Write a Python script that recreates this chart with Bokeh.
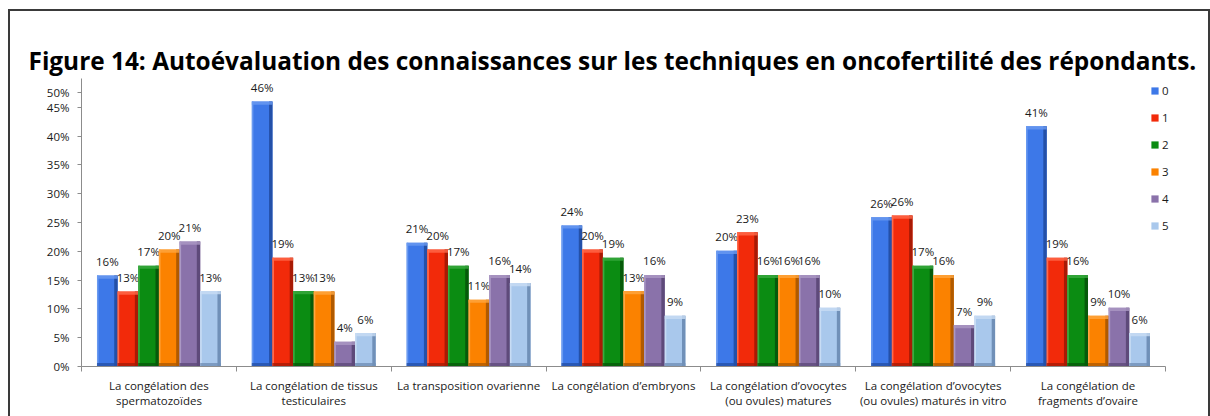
from bokeh.plotting import figure
from bokeh.models import (ColumnDataSource, FixedTicker, CustomJSTickFormatter, Legend,
                          LegendItem, Range1d)
from bokeh.transform import dodge
from bokeh.core.properties import value
from bokeh.embed import file_html
from bokeh.resources import INLINE

# ---------------- data ----------------
categories = [
    "La congélation des\nspermatozoïdes",
    "La congélation de tissus\ntesticulaires",
    "La transposition ovarienne",
    "La congélation d’embryons",
    "La congélation d’ovocytes\n(ou ovules) matures",
    "La congélation d’ovocytes\n(ou ovules) maturés in vitro",
    "La congélation de\nfragments d’ovaire",
]
series_names = ["0", "1", "2", "3", "4", "5"]

s0 = [15.8, 46.0, 21.5, 24.5, 20.1, 25.9, 41.7]
s1 = [13.0, 18.9, 20.3, 20.3, 23.3, 26.2, 18.9]
s2 = [17.5, 13.1, 17.5, 18.9, 15.9, 17.5, 15.9]
s3 = [20.3, 13.0, 11.6, 13.1, 15.9, 15.9, 8.8]
s4 = [21.7, 4.3, 15.9, 15.9, 15.9, 7.2, 10.2]
s5 = [13.1, 5.8, 14.5, 8.8, 10.2, 8.8, 5.8]

l0 = ["16%", "46%", "21%", "24%", "20%", "26%", "41%"]
l1 = ["13%", "19%", "20%", "20%", "23%", "26%", "19%"]
l2 = ["17%", "13%", "17%", "19%", "16%", "17%", "16%"]
l3 = ["20%", "13%", "11%", "13%", "16%", "16%", "9%"]
l4 = ["21%", "4%", "16%", "16%", "16%", "7%", "10%"]
l5 = ["13%", "6%", "14%", "9%", "10%", "9%", "6%"]

series = [s0, s1, s2, s3, s4, s5]
labels = [l0, l1, l2, l3, l4, l5]

y_ticks = [0, 5, 10, 15, 20, 25, 30, 35, 40, 45]

title_text = "Figure 14: Autoévaluation des connaissances sur les techniques en oncofertilité des répondants."

# ---------------- styles ----------------
main_colors = ["#3d78e8", "#f22a0a", "#0b8c12", "#fb8200", "#8a72aa", "#a9c8ec"]
dark_colors = ["#2450a8", "#a81a05", "#065a0a", "#b05a00", "#5e4a7a", "#7090b8"]
light_colors = ["#6a9af0", "#ff6a4a", "#3aaa40", "#ffa640", "#ab98c4", "#c8dcf4"]

FONT = "Open Sans"
FS = "11.5px"
N_CAT = len(categories)
X_END = N_CAT * 1099 / 1080

p = figure(width=1202, height=407, x_range=Range1d(0, X_END), y_range=Range1d(0, 50),
           toolbar_location=None, output_backend="svg",
           min_border_left=71, min_border_right=28, min_border_top=67, min_border_bottom=52,
           styles={"border-top": "2px solid #3a3a3a", "border-left": "2px solid #3a3a3a",
                   "border-right": "2px solid #3a3a3a", "margin-top": "9px",
                   "margin-left": "8px"})
p.outline_line_color = None
p.xgrid.visible = False
p.ygrid.visible = False
p.background_fill_color = "white"
p.border_fill_color = "white"

# title
p.title.text = title_text
p.title.text_font = FONT
p.title.text_font_style = "bold"
p.title.text_font_size = "24.4px"
p.title.align = "left"
p.title.offset = -53
p.title.standoff = 3
p.title.text_color = "black"

xs = [i + 0.5 for i in range(N_CAT)]
n = len(series)
bw = 0.8 / n
sw = 0.022
lw = 0.01

items = []
for j in range(n):
    src = ColumnDataSource(dict(x=xs, top=series[j], lab=labels[j]))
    off = (j - (n - 1) / 2) * bw
    r = p.vbar(x=dodge("x", off), top="top", bottom=0, width=bw, source=src,
               fill_color=main_colors[j], line_color=None)
    # bevel effects
    p.vbar(x=dodge("x", off + bw / 2 - sw / 2), top="top", bottom=0, width=sw, source=src,
           fill_color=dark_colors[j], line_color=None)
    p.vbar(x=dodge("x", off - bw / 2 + lw / 2), top="top", bottom=0, width=lw, source=src,
           fill_color=light_colors[j], line_color=None)
    p.vbar(x=dodge("x", off), top="top", bottom=dodge("top", -0.55), width=bw, source=src,
           fill_color=light_colors[j], line_color=None, fill_alpha=0.8)
    p.vbar(x=dodge("x", off), top=0.6, bottom=0, width=bw, source=src,
           fill_color=dark_colors[j], line_color=None, fill_alpha=0.8)
    p.text(x=dodge("x", off), y="top", text="lab", source=src, y_offset=-14,
           text_align="center", text_baseline="middle", text_font=value(FONT),
           text_font_size=FS, text_color="#1a1a1a")
    items.append(LegendItem(label=series_names[j], renderers=[r]))

legend = Legend(items=items, location=(1069, 133), glyph_width=9, glyph_height=9,
                label_text_font=FONT, label_text_font_size=FS, label_text_color="#1a1a1a",
                spacing=12, padding=0, margin=0, label_standoff=3,
                border_line_color=None, background_fill_alpha=0)
p.add_layout(legend)

# y axis
yax = p.yaxis[0]
yax.ticker = FixedTicker(ticks=y_ticks + [47.6])
yax.formatter = CustomJSTickFormatter(code="return tick > 46 ? '50%' : tick.toFixed(0) + '%';")
yax.axis_line_color = "#8c8c8c"
yax.major_tick_line_color = "#8c8c8c"
yax.major_tick_out = 4
yax.major_tick_in = 0
yax.minor_tick_line_color = None
yax.major_label_standoff = 8
yax.major_label_text_font = FONT
yax.major_label_text_font_size = FS
yax.major_label_text_color = "#1a1a1a"

# x axis
xax = p.xaxis[0]
xax.bounds = (0, N_CAT)
xax.ticker = FixedTicker(ticks=xs, minor_ticks=list(range(N_CAT + 1)))
xax.formatter = CustomJSTickFormatter(args=dict(cats=categories),
                                      code="return cats[Math.floor(tick)];")
xax.axis_line_color = "#8c8c8c"
xax.major_tick_line_color = None
xax.major_tick_out = 0
xax.major_tick_in = 0
xax.minor_tick_line_color = "#8c8c8c"
xax.minor_tick_out = 5
xax.minor_tick_in = 0
xax.major_label_standoff = 6
xax.major_label_text_font = FONT
xax.major_label_text_font_size = FS
xax.major_label_text_color = "#1a1a1a"
xax.major_label_text_line_height = 1.0

open("out.html", "w").write(file_html(p, INLINE))
